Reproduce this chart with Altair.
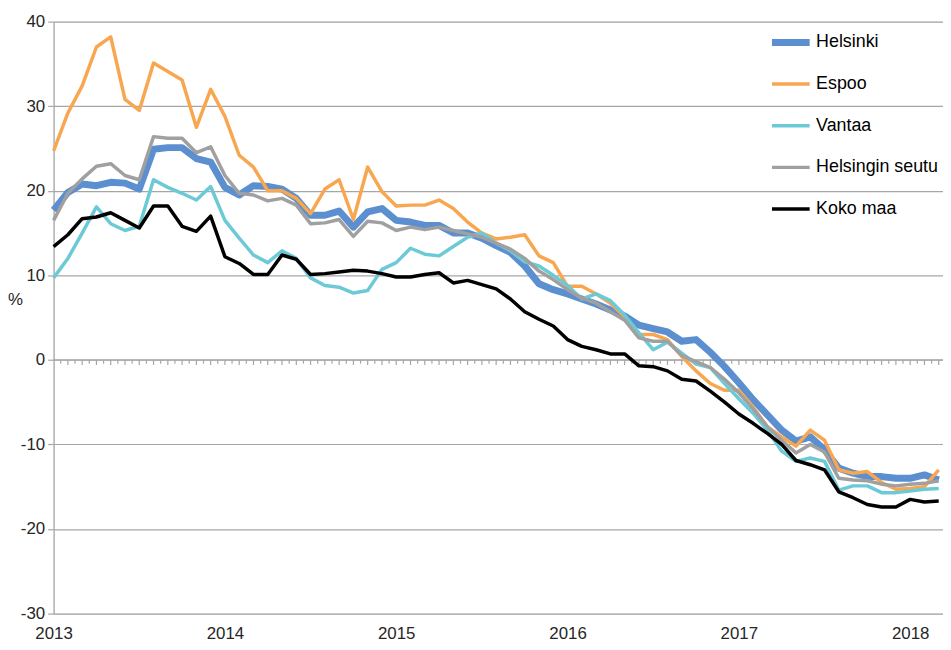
import altair as alt
import pandas as pd

# Monthly index: 0 = Jan 2013 ... 62 = Mar 2018
series_names = ["Helsinki", "Espoo", "Vantaa", "Helsingin seutu", "Koko maa"]
series_colors = ["#5b8fd0", "#f8a650", "#6cc9d6", "#a0a0a0", "#000000"]
series_widths = [7, 3.5, 3.5, 3.5, 3.5]

year_labels = ["2013", "2014", "2015", "2016", "2017", "2018"]
year_positions = [0, 12, 24, 36, 48, 60]

helsinki = [17.7, 19.8, 20.8, 20.6, 21.0, 20.9, 20.2, 24.9, 25.1, 25.1, 23.8, 23.4, 20.4, 19.5, 20.6, 20.5,
            20.2, 19.1, 17.1, 17.1, 17.6, 15.7, 17.5, 17.9, 16.5, 16.3, 15.9, 15.9, 15.0, 15.0, 14.4, 13.5,
            12.7, 11.1, 9.0, 8.3, 7.8, 7.2, 6.6, 5.9, 5.2, 4.1, 3.7, 3.3, 2.2, 2.4, 0.9, -0.8,
            -2.7, -4.7, -6.5, -8.3, -9.6, -9.1, -10.6, -12.8, -13.4, -13.8, -13.8, -14.0, -14.0, -13.6, -14.2]
espoo = [24.7, 29.2, 32.4, 37.0, 38.2, 30.8, 29.5, 35.1, 34.1, 33.1, 27.5, 32.0, 28.8, 24.2, 22.8, 20.0,
         20.0, 19.1, 17.3, 20.2, 21.3, 16.6, 22.8, 19.9, 18.2, 18.3, 18.3, 18.9, 17.9, 16.3, 15.0, 14.3,
         14.5, 14.8, 12.3, 11.5, 8.7, 8.7, 7.8, 6.7, 5.1, 3.0, 3.0, 2.4, 0.4, -1.3, -2.8, -3.6,
         -3.6, -5.6, -7.9, -9.1, -10.2, -8.3, -9.5, -13.0, -13.4, -13.2, -14.5, -15.3, -15.2, -15.0, -13.0]
vantaa = [9.7, 12.0, 15.0, 18.1, 16.1, 15.3, 15.8, 21.3, 20.4, 19.7, 18.9, 20.5, 16.5, 14.4, 12.4, 11.5,
          12.9, 12.0, 9.7, 8.8, 8.6, 7.9, 8.2, 10.7, 11.5, 13.2, 12.5, 12.3, 13.4, 14.5, 15.0, 13.8,
          12.9, 11.6, 11.1, 10.0, 8.8, 7.2, 7.8, 7.0, 5.3, 3.2, 1.2, 2.1, 0.8, -0.5, -0.9, -2.8,
          -4.6, -6.3, -8.3, -10.8, -12.0, -11.6, -12.0, -15.4, -14.9, -14.9, -15.7, -15.7, -15.5, -15.3, -15.2]
seutu = [16.5, 19.7, 21.4, 22.9, 23.2, 21.8, 21.3, 26.4, 26.2, 26.2, 24.5, 25.2, 21.8, 19.7, 19.5, 18.8,
         19.1, 18.3, 16.1, 16.2, 16.6, 14.6, 16.4, 16.2, 15.3, 15.7, 15.4, 15.7, 15.3, 14.9, 14.5, 13.8,
         13.1, 12.0, 10.5, 9.5, 8.3, 7.3, 6.7, 5.7, 4.7, 2.6, 2.2, 2.2, 0.5, -0.2, -0.9, -2.3,
         -3.9, -5.8, -7.9, -9.5, -11.0, -10.0, -10.9, -14.0, -14.2, -14.3, -14.7, -14.9, -14.7, -14.6, -14.3]
koko_maa = [13.4, 14.8, 16.7, 16.9, 17.4, 16.5, 15.6, 18.2, 18.2, 15.8, 15.2, 17.0, 12.2, 11.4, 10.1, 10.1,
            12.4, 11.9, 10.1, 10.2, 10.4, 10.6, 10.5, 10.2, 9.8, 9.8, 10.1, 10.3, 9.1, 9.4, 8.9, 8.4,
            7.2, 5.7, 4.8, 4.0, 2.4, 1.6, 1.2, 0.7, 0.7, -0.7, -0.8, -1.3, -2.3, -2.5, -3.7, -5.0,
            -6.4, -7.5, -8.7, -10.0, -11.9, -12.4, -13.0, -15.6, -16.3, -17.1, -17.4, -17.4, -16.5, -16.8, -16.7]

all_series = [helsinki, espoo, vantaa, seutu, koko_maa]

rows = []
for name, vals in zip(series_names, all_series):
    for i, v in enumerate(vals):
        rows.append({"m": i, "value": v, "series": name})
df = pd.DataFrame(rows)

# half-month tick marks along the zero line
tick_pos = [k * 0.5 for k in range(1, 125)]
tick_len = [-0.6 if k % 2 == 0 else -0.45 for k in range(1, 125)]
ticks_df = pd.DataFrame({"m": tick_pos, "y0": [0.0] * len(tick_pos), "y1": tick_len})

FONT = "Liberation Sans Narrow, Liberation Sans, Arial, sans-serif"
GRID = "#a6a6a6"

x_scale = alt.Scale(domain=[0, 62.3], nice=False, zero=False)
y_scale = alt.Scale(domain=[-30, 40], nice=False)

label_expr = "{" + ",".join(f"'{p}':'{l}'" for p, l in zip(year_positions, year_labels)) + "}[datum.value]"

legend_common = dict(title=None, orient="none", legendX=721, legendY=11,
                     symbolType="stroke", symbolSize=1444, labelFontSize=18,
                     labelFont=FONT, labelColor="#000000", rowPadding=22, clipHeight=20,
                     labelOffset=3)

lines = alt.Chart(df).mark_line(strokeJoin="round", strokeCap="butt").encode(
    x=alt.X("m:Q", scale=x_scale,
            axis=alt.Axis(values=year_positions, labelExpr=label_expr, title=None, grid=False,
                          domain=False, ticks=False, labelFontSize=17, labelFont=FONT,
                          labelColor="#262626", labelPadding=12, labelFlush=False)),
    y=alt.Y("value:Q", scale=y_scale,
            axis=alt.Axis(values=[-30, -20, -10, 0, 10, 20, 30, 40], labelExpr="'' + datum.value",
                          title="%", titleAngle=0,
                          titleX=-39, titleY=280, titleAlign="center", titleBaseline="middle",
                          titleFontSize=17, titleFont=FONT, titleFontWeight="normal", titleColor="#262626",
                          grid=True, gridColor=GRID, gridWidth=1.2, domainColor=GRID, domainWidth=1.2,
                          tickColor=GRID, tickSize=6, tickWidth=1.2, labelFontSize=17, labelFont=FONT,
                          labelColor="#262626", labelPadding=3)),
    color=alt.Color("series:N", scale=alt.Scale(domain=series_names, range=series_colors),
                    legend=alt.Legend(**legend_common)),
    strokeWidth=alt.StrokeWidth("series:N",
                                scale=alt.Scale(type="ordinal", domain=series_names, range=series_widths),
                                legend=alt.Legend(**legend_common)),
    order=alt.Order("m:Q"),
)

zero_line = alt.Chart(pd.DataFrame({"y": [0.0]})).mark_rule(color=GRID, strokeWidth=1.5).encode(
    y=alt.Y("y:Q", scale=y_scale)
)

zero_ticks = alt.Chart(ticks_df).mark_rule(color=GRID, strokeWidth=1.2).encode(
    x=alt.X("m:Q", scale=x_scale),
    y=alt.Y("y0:Q", scale=y_scale),
    y2="y1:Q",
)

chart = alt.layer(zero_ticks, zero_line, lines).properties(
    width=897, height=597,
    autosize=alt.AutoSizeParams(type="none"),
    padding={"left": 46, "top": 11, "right": 0, "bottom": 34},
).configure_view(stroke=None).configure(font=FONT)

chart.save("out.html", embed_options={"renderer": "svg", "actions": False})
